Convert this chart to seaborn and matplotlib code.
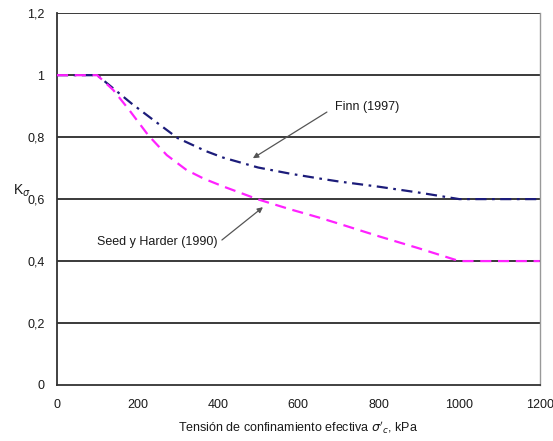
import matplotlib
matplotlib.use("Agg")
import matplotlib.pyplot as plt
import seaborn as sns
import pandas as pd
from matplotlib.ticker import MultipleLocator, FuncFormatter

# Confining stress (kPa) and K-sigma correction factors
stress_finn = [0, 100, 130, 185, 240, 300, 370, 413, 500, 580, 650, 700, 800, 900, 1000, 1200]
k_finn = [1.0, 1.0, 0.968, 0.909, 0.855, 0.797, 0.755, 0.734, 0.702, 0.682, 0.667, 0.657, 0.640, 0.621, 0.60, 0.60]

stress_seed = [0, 100, 140, 180, 227, 273, 322, 365, 413, 500, 580, 650, 700, 800, 900, 1000, 1200]
k_seed = [1.0, 1.0, 0.952, 0.887, 0.806, 0.742, 0.694, 0.666, 0.641, 0.599, 0.567, 0.541, 0.521, 0.480, 0.441, 0.40, 0.40]

name_finn = "Finn (1997)"
name_seed = "Seed y Harder (1990)"

df = pd.concat([
    pd.DataFrame({"stress": stress_finn, "k": k_finn, "curva": name_finn}),
    pd.DataFrame({"stress": stress_seed, "k": k_seed, "curva": name_seed}),
], ignore_index=True)

sns.set_theme(style="white")
plt.rcParams["font.family"] = ["Liberation Sans", "DejaVu Sans"]

fig = plt.figure(figsize=(5.53, 4.41), dpi=100)
ax = fig.add_axes([0.103, 0.127, 0.873, 0.843])

sns.lineplot(
    data=df, x="stress", y="k", hue="curva", style="curva",
    palette={name_finn: "#1c1c7a", name_seed: "#ff22ff"},
    dashes={name_finn: (5, 2.5, 1.2, 2.5), name_seed: (5, 3)},
    linewidth=1.6, legend=False, ax=ax, zorder=3, estimator=None, sort=False,
)


def comma_fmt(v, pos):
    if abs(v - round(v)) < 1e-9:
        return f"{int(round(v))}"
    return f"{v:.1f}".replace(".", ",")


ax.set_xlim(0, 1200)
ax.set_ylim(0, 1.2)
ax.xaxis.set_major_locator(MultipleLocator(200))
ax.yaxis.set_major_locator(MultipleLocator(0.2))
ax.yaxis.set_minor_locator(MultipleLocator(0.1))
ax.yaxis.set_major_formatter(FuncFormatter(comma_fmt))
ax.xaxis.set_major_formatter(FuncFormatter(lambda v, p: f"{int(round(v))}"))

ax.grid(False)
for yv in [0.2, 0.4, 0.6, 0.8, 1.0, 1.2]:
    ax.axhline(yv, color="#2b2b2b", linewidth=1.3, zorder=1)

for side in ["left", "bottom"]:
    ax.spines[side].set_color("#333333")
    ax.spines[side].set_linewidth(1.3)
ax.spines["right"].set_color("#999999")
ax.spines["right"].set_linewidth(1.0)
ax.spines["top"].set_visible(False)

ax.tick_params(axis="both", which="both", direction="in", colors="#333333",
               labelcolor="#1a1a1a", labelsize=9)
ax.tick_params(axis="x", which="major", length=4, width=1, pad=10)
ax.tick_params(axis="y", which="major", length=0, pad=9)
ax.tick_params(axis="y", which="minor", length=3, width=1)

ax.set_xlabel(r"Tensión de confinamiento efectiva $\sigma'_c$, kPa", fontsize=9,
              color="#1a1a1a", labelpad=6)
ax.set_ylabel(r"K$_\sigma$", fontsize=10, rotation=0, color="#1a1a1a")
ax.yaxis.set_label_coords(-0.072, 0.5)

arrow = dict(arrowstyle="-|>", color="#555555", lw=0.9, mutation_scale=8,
             shrinkA=0, shrinkB=0)
ax.text(690, 0.897, name_finn, fontsize=9, color="#1a1a1a", ha="left", va="center")
ax.annotate("", xy=(487, 0.732), xytext=(671, 0.881), arrowprops=arrow)

ax.text(99, 0.461, name_seed, fontsize=9, color="#1a1a1a", ha="left", va="center")
ax.annotate("", xy=(512, 0.574), xytext=(410, 0.468), arrowprops=arrow)

fig.savefig("out.png", dpi=100, facecolor="white")
